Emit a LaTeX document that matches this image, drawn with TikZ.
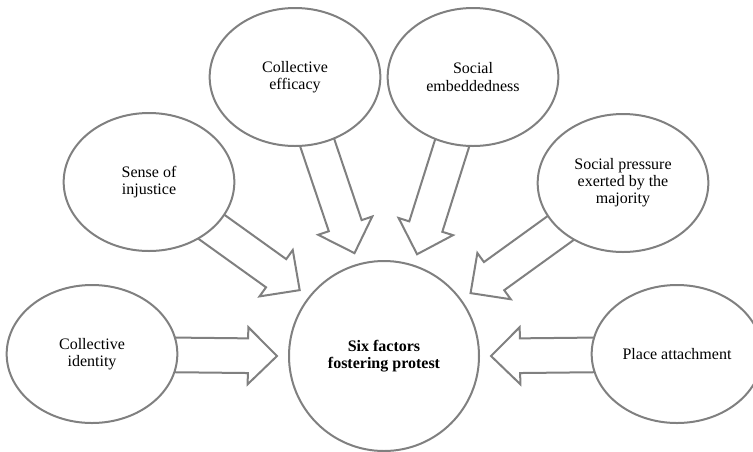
\documentclass[tikz,border=0pt]{standalone}
\usepackage{fontspec}
\setmainfont{Liberation Serif}
\usetikzlibrary{shapes.geometric,calc,backgrounds}

\tikzset{%
  factor/.style={ellipse, draw=gray, line width=1.5pt, fill=white, inner sep=0pt,
    minimum width=128pt, minimum height=103.5pt, align=center,
    font=\fontsize{12}{12.8}\selectfont},
  hubnode/.style={circle, draw=gray, line width=1.5pt, fill=white, inner sep=0pt,
    minimum size=142.5pt, outer sep=9pt, align=center,
    font=\fontsize{12}{13.2}\selectfont\bfseries},
  % hollow block arrow, shaft 26pt wide, head 43pt wide and 22pt long
  fatarrow/.style={draw=gray, line width=1.5pt, fill=white, line join=miter,
    to path={let \p1=(\tikztostart), \p2=(\tikztotarget),
      \n1={atan2(\y2-\y1,\x2-\x1)}, \n2={veclen(\x2-\x1,\y2-\y1)-21.75pt} in
      ($(\p1)+(\n1+90:13pt)$) -- ($(\p1)+(\n1:\n2)+(\n1+90:13pt)$)
      -- ($(\p1)+(\n1:\n2)+(\n1+90:21.4pt)$) -- (\p2)
      -- ($(\p1)+(\n1:\n2)+(\n1-90:21.4pt)$) -- ($(\p1)+(\n1:\n2)+(\n1-90:13pt)$)
      -- ($(\p1)+(\n1-90:13pt)$) -- cycle}}
}

\begin{document}
\begin{tikzpicture}[x=0.75pt,y=-0.75pt]%
\useasboundingbox (0,0) rectangle (753,451);%
% centre
\node[hubnode] (hub) at (384,356) {Six factors\\fostering protest};%
% the six factors
\node[factor] (ident) at (92,354) {Collective\\identity};%
\node[factor] (injust) at (149,182) {Sense of\\injustice};%
\node[factor] (effic) at (295,77) {Collective\\efficacy};%
\node[factor] (embed) at (473,77) {Social\\embeddedness};%
\node[factor] (press) at (623,183) {Social pressure\\exerted by the\\majority};%
\node[factor] (place) at (677,354) {Place attachment};%
% arrows behind the ellipses
\begin{pgfonlayer}{background}%
\draw[fatarrow] (ident) to (hub.west);%
\draw[fatarrow] (injust) to (hub.142.5);%
\draw[fatarrow] (effic) to (hub.106.3);%
\draw[fatarrow] (embed) to (hub.72.1);%
\draw[fatarrow] (press) to (hub.36.4);%
\draw[fatarrow] (place) to (hub.east);%
\end{pgfonlayer}%
\end{tikzpicture}
\end{document}
